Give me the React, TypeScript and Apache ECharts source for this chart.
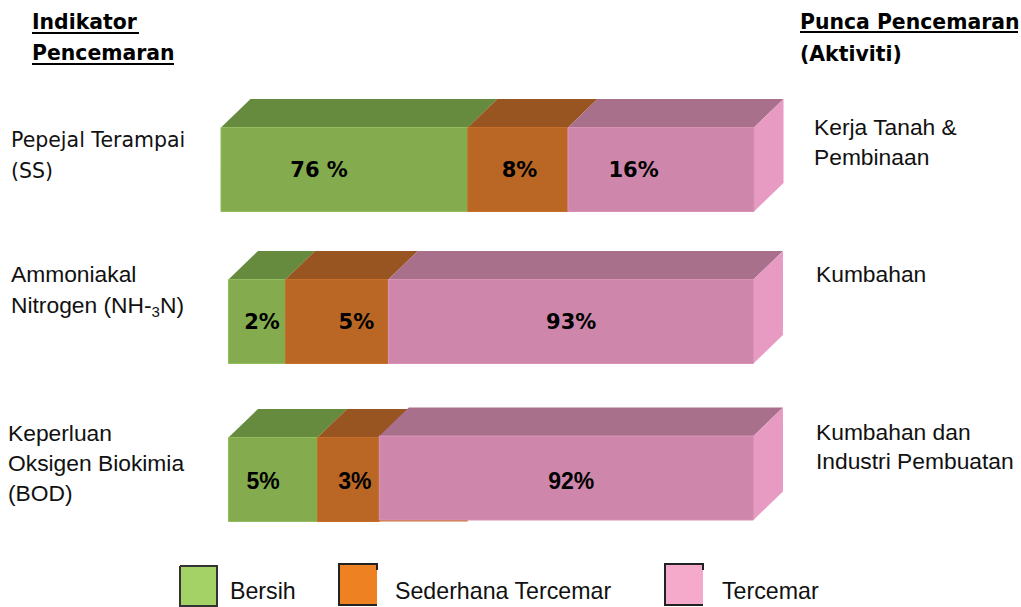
import React, { useEffect, useRef } from "react";
import * as echarts from "echarts";

const categories = ["Pepejal Terampai (SS)", "Ammoniakal Nitrogen (NH-3N)", "Keperluan Oksigen Biokimia (BOD)"];
const seriesNames = ["Bersih", "Sederhana Tercemar", "Tercemar"];
const bersihLabels = ["76 %", "2%", "5%"];
const sederhanaLabels = ["8%", "5%", "3%"];
const tercemarLabels = ["16%", "93%", "92%"];
// Drawn extents of the segments along the bar (0-100 of the longest bar).
const bersihStart = [0, 1.4, 1.4];
const bersihEnd = [46.3, 12.1, 18.1];
const sederhanaEnd = [65.1, 31.4, 29.7];
const tercemarEnd = [100, 99.9, 99.9];
const sederhanaUnderhang = [0, 0, 46.3];
// Where each value label sits along the bar.
const bersihLabelAt = [18.4, 7.7, 7.9];
const sederhanaLabelAt = [56.0, 25.4, 25.1];
const tercemarLabelAt = [77.4, 65.7, 65.7];

const DEPTH_X = 29.5;
const DEPTH_Y = 28.5;
const BAR_H = 84;
const ROW_NUDGE = [0, -3, 0];

const VERDANA = '"DejaVu Sans", Verdana, sans-serif';
const ARIAL = '"Liberation Sans", Arial, sans-serif';

type Face = { front: string; top: string; edge: string; side?: string };
const FACES: Face[] = [
  { front: "#84AC4F", top: "#668A3E", edge: "#93BC5E" },
  { front: "#BA6726", top: "#985421", edge: "#C8702A" },
  { front: "#CE87AB", top: "#A8708B", edge: "#DB92B8", side: "#E79AC2" },
];

function makeRender(faceIdx: number) {
  const f = FACES[faceIdx];
  return (params: any, api: any) => {
    const row = api.value(2);
    const under = api.value(4);
    const [x0, yc0] = api.coord([api.value(0), row]);
    const [x1] = api.coord([api.value(1), row]);
    const yc = yc0 + ROW_NUDGE[row];
    const top = yc - BAR_H / 2;
    const bottom = yc + BAR_H / 2;
    const lift = faceIdx === 2 && row === 2 ? 1.5 : 0;
    const children: any[] = [];
    if (under) {
      const [xu] = api.coord([under, row]);
      children.push({
        type: "rect",
        shape: { x: x0, y: bottom - 2, width: xu - x0, height: 2 },
        style: { fill: "#C8702A" },
      });
    }
    children.push({
      type: "polygon",
      shape: {
        points: [
          [x0, top - lift],
          [x1, top - lift],
          [x1 + DEPTH_X, top - DEPTH_Y - lift],
          [x0 + DEPTH_X, top - DEPTH_Y - lift],
        ],
      },
      style: { fill: f.top },
    });
    if (f.side) {
      children.push({
        type: "polygon",
        shape: {
          points: [
            [x1, top - lift],
            [x1 + DEPTH_X, top - DEPTH_Y - lift],
            [x1 + DEPTH_X, bottom - DEPTH_Y - lift],
            [x1, bottom - lift],
          ],
        },
        style: { fill: f.side },
      });
    }
    children.push({
      type: "rect",
      shape: { x: x0, y: top - lift, width: x1 - x0, height: bottom - top },
      style: { fill: f.front, stroke: f.edge, lineWidth: 1 },
    });
    const [lx] = api.coord([api.value(3), row]);
    const label = api.value(5);
    children.push({
      type: "text",
      x: lx,
      y: yc + (row === 2 ? 1 : 0),
      style: {
        text: label,
        align: "center",
        verticalAlign: "middle",
        fill: "#000",
        font: row === 2 ? `bold 23px ${ARIAL}` : `bold 21px ${VERDANA}`,
      },
    });
    return { type: "group", children };
  };
}

function rows(start: number[], end: number[], at: number[], labels: string[], under?: number[]) {
  return categories.map((_, i) => [start[i], end[i], i, at[i], under ? under[i] : 0, labels[i]]);
}

function txt(x: number, y: number, text: string, font: string, fill = "#111") {
  return {
    type: "text",
    x,
    y,
    style: { text, font, fill, align: "left", verticalAlign: "middle" },
  };
}
function uline(x1: number, x2: number, y: number) {
  return {
    type: "line",
    shape: { x1, y1: y, x2, y2: y },
    style: { stroke: "#000", lineWidth: 2 },
  };
}
function swatch(x: number, y: number, w: number, h: number, fill: string, border: string, open: boolean) {
  return [
    {
      type: "rect",
      shape: { x, y, width: w, height: h },
      style: { fill },
    },
    {
      type: "polyline",
      shape: {
        points: open
          ? [
              [x + w, y + 6],
              [x + w, y],
              [x, y],
              [x, y + h],
              [x + w, y + h],
            ]
          : [
              [x, y],
              [x + w, y],
              [x + w, y + h],
              [x, y + h],
              [x, y],
            ],
      },
      style: { stroke: border, lineWidth: 2, fill: "none" },
    },
  ];
}

export default function App() {
  const ref = useRef<HTMLDivElement>(null);
  useEffect(() => {
    const chart = echarts.init(ref.current!, undefined, { renderer: "svg" });
    const sB = rows(bersihStart, bersihEnd, bersihLabelAt, bersihLabels);
    const sS = rows(bersihEnd, sederhanaEnd, sederhanaLabelAt, sederhanaLabels, sederhanaUnderhang);
    const sT = rows(sederhanaEnd, tercemarEnd, tercemarLabelAt, tercemarLabels);
    const mk = (i: number, data: any[]) => ({
      type: "custom",
      name: seriesNames[i],
      coordinateSystem: "cartesian2d",
      clip: false,
      renderItem: makeRender(i),
      encode: { x: [0, 1], y: 2 },
      data,
    });
    const hV = `bold 20.4px ${VERDANA}`;
    const nV = `20.5px ${VERDANA}`;
    const nA = `22.8px ${ARIAL}`;
    const lA = `23.2px ${ARIAL}`;
    chart.setOption({
      animation: false,
      backgroundColor: "#fff",
      grid: { left: 221, top: 92, width: 533, height: 465 },
      xAxis: { type: "value", min: 0, max: 100, show: false },
      yAxis: { type: "category", inverse: true, data: categories, show: false },
      series: [mk(0, sB), mk(1, sS), mk(2, sT)],
      graphic: {
        elements: [
          txt(32, 22, "Indikator", hV, "#000"),
          uline(32, 139, 33),
          txt(32, 53, "Pencemaran", hV, "#000"),
          uline(32, 174, 64),
          txt(800, 22, "Punca Pencemaran", hV, "#000"),
          uline(800, 1018, 32),
          txt(800, 54, "(Aktiviti)", hV, "#000"),
          txt(11, 140, "Pepejal Terampai", nV),
          txt(11, 171, "(SS)", nV),
          txt(11, 274, "Ammoniakal", nA),
          {
            type: "text",
            x: 11,
            y: 305,
            style: {
              text: "{a|Nitrogen (NH-}{s|3}{a|N)}",
              align: "left",
              verticalAlign: "middle",
              rich: {
                a: { font: nA, fill: "#111" },
                s: { font: `15px ${ARIAL}`, fill: "#111", padding: [12, 0, 0, 0] },
              },
            },
          },
          txt(8, 433, "Keperluan", nA),
          txt(8, 463, "Oksigen Biokimia", nA),
          txt(8, 493, "(BOD)", nA),
          txt(814, 127, "Kerja Tanah &", nA),
          txt(814, 157, "Pembinaan", nA),
          txt(816, 274, "Kumbahan", nA),
          txt(816, 432, "Kumbahan dan", nA),
          txt(816, 461, "Industri Pembuatan", nA),
          ...swatch(180, 566, 37, 40, "#A5D266", "#333", false),
          txt(230, 591, "Bersih", lA),
          ...swatch(339, 564, 38, 41, "#EE8222", "#222", true),
          txt(395, 591, "Sederhana Tercemar", lA),
          ...swatch(665, 564, 38, 41, "#F5A9CB", "#222", true),
          txt(722, 591, "Tercemar", lA),
        ],
      },
    });
    return () => chart.dispose();
  }, []);
  return <div ref={ref} style={{ position: "fixed", left: 0, top: 0, width: 1021, height: 607 }} />;
}
